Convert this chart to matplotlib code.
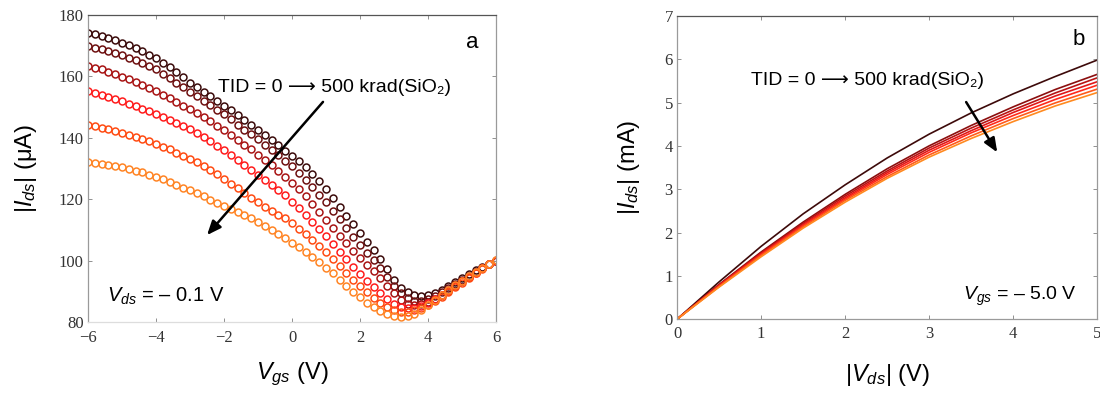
import numpy as np
import matplotlib
matplotlib.use("Agg")
from matplotlib import pyplot as plt

plt.rcParams["font.family"] = ["Liberation Sans", "DejaVu Sans"]
plt.rcParams["mathtext.fontset"] = "custom"
plt.rcParams["mathtext.rm"] = "Liberation Sans"
plt.rcParams["mathtext.it"] = "Liberation Sans:italic"

# panel a: |Ids| (uA) vs Vgs, one curve per dose, read every 0.2 V
vgs = np.round(np.arange(-60, 61, 2) / 10, 1)
ids_0 = [174.2, 173.7, 173.2, 172.5, 171.8, 171.0, 170.1, 169.2, 168.2, 167.1,
         166.0, 164.5, 163.0, 161.4, 159.7, 158.0, 156.5, 155.0, 153.5, 152.0,
         150.5, 148.9, 147.3, 145.7, 144.1, 142.5, 140.9, 139.2, 137.5, 135.8,
         134.2, 132.4, 130.5, 128.3, 125.8, 123.2, 120.5, 117.6, 114.6, 111.8,
         109.0, 106.2, 103.5, 100.6, 97.2, 93.6, 91.0, 89.6, 88.8, 88.5,
         88.7, 89.3, 90.5, 91.8, 93.1, 94.4, 95.6, 96.8, 98.0, 99.0, 100.0]
ids_1 = [169.8, 169.4, 168.9, 168.3, 167.6, 166.9, 166.1, 165.2, 164.3, 163.3,
         162.3, 160.9, 159.5, 158.0, 156.5, 155.0, 153.6, 152.1, 150.6, 149.1,
         147.6, 146.0, 144.3, 142.7, 141.1, 139.5, 137.8, 136.1, 134.3, 132.5,
         130.8, 128.6, 126.4, 124.0, 121.5, 119.0, 116.3, 113.4, 110.5, 107.8,
         105.2, 102.6, 100.1, 97.5, 94.6, 91.8, 89.4, 87.7, 86.9, 86.8,
         87.4, 88.3, 89.6, 90.9, 92.3, 93.7, 95.0, 96.3, 97.6, 98.8, 100.0]
ids_2 = [163.4, 162.9, 162.3, 161.6, 160.8, 159.9, 159.0, 158.1, 157.2, 156.2,
         155.3, 154.1, 152.9, 151.7, 150.5, 149.3, 148.0, 146.7, 145.4, 144.0,
         142.6, 141.0, 139.4, 137.8, 136.2, 134.5, 132.8, 131.0, 129.2, 127.3,
         125.4, 123.3, 121.0, 118.5, 115.9, 113.3, 110.7, 108.1, 105.6, 103.2,
         100.9, 98.7, 96.6, 94.3, 91.8, 89.3, 87.2, 85.9, 85.5, 85.7,
         86.4, 87.5, 88.9, 90.4, 91.9, 93.4, 94.8, 96.2, 97.5, 98.8, 100.0]
ids_3 = [155.2, 154.7, 154.1, 153.4, 152.6, 151.9, 151.1, 150.3, 149.5, 148.7,
         147.9, 146.9, 145.9, 144.9, 143.9, 142.8, 141.5, 140.2, 138.8, 137.4,
         136.0, 134.5, 132.9, 131.2, 129.4, 127.8, 126.2, 124.6, 123.0, 121.4,
         119.2, 117.0, 114.8, 112.5, 110.3, 107.9, 105.4, 102.9, 100.4, 98.0,
         95.7, 93.5, 91.4, 89.4, 87.6, 86.0, 85.0, 84.6, 84.7, 85.3,
         86.2, 87.4, 88.7, 90.2, 91.7, 93.2, 94.7, 96.1, 97.5, 98.8, 100.0]
ids_4 = [144.3, 143.8, 143.3, 142.8, 142.2, 141.6, 140.9, 140.2, 139.5, 138.8,
         138.0, 137.1, 136.2, 135.2, 134.2, 133.1, 132.0, 130.8, 129.5, 128.1,
         126.6, 125.1, 123.5, 122.0, 120.5, 119.0, 117.6, 116.2, 114.9, 113.8,
         112.1, 110.4, 108.6, 106.8, 104.9, 102.8, 100.5, 98.1, 95.8, 93.6,
         91.6, 89.7, 87.9, 86.3, 84.9, 83.9, 83.4, 83.4, 83.8, 84.6,
         85.6, 86.8, 88.2, 89.7, 91.3, 92.8, 94.4, 95.9, 97.4, 98.8, 100.1]
ids_5 = [132.0, 131.7, 131.4, 131.1, 130.8, 130.4, 129.9, 129.3, 128.7, 128.0,
         127.3, 126.5, 125.6, 124.7, 123.8, 122.9, 121.9, 120.9, 119.8, 118.8,
         117.8, 116.8, 115.8, 114.8, 113.8, 112.6, 111.3, 110.0, 108.6, 107.2,
         105.8, 104.3, 102.8, 101.2, 99.5, 97.7, 95.8, 93.8, 91.8, 89.8,
         88.0, 86.3, 84.8, 83.5, 82.5, 81.8, 81.6, 81.9, 82.7, 84.0,
         85.6, 87.2, 88.8, 90.4, 91.9, 93.4, 94.9, 96.3, 97.7, 99.0, 100.3]
curves_a = [ids_0, ids_1, ids_2, ids_3, ids_4, ids_5]
colors_a = ["#3b0b0b", "#6e1010", "#a81414", "#ff1c1c", "#ff4b12", "#ff8424"]

# panel b: |Ids| (mA) vs |Vds| at Vgs = -5 V, read every 0.5 V
vds = [0.0, 0.5, 1.0, 1.5, 2.0, 2.5, 3.0, 3.5, 4.0, 4.5, 5.0]
idb_0 = [0, 0.86, 1.68, 2.43, 3.10, 3.72, 4.27, 4.76, 5.20, 5.60, 5.98]
idb_1 = [0, 0.80, 1.55, 2.24, 2.88, 3.47, 4.00, 4.47, 4.90, 5.30, 5.65]
idb_2 = [0, 0.79, 1.53, 2.21, 2.84, 3.42, 3.95, 4.41, 4.83, 5.22, 5.57]
idb_3 = [0, 0.78, 1.51, 2.18, 2.80, 3.38, 3.90, 4.35, 4.77, 5.15, 5.48]
idb_4 = [0, 0.77, 1.49, 2.16, 2.77, 3.34, 3.85, 4.30, 4.70, 5.07, 5.40]
idb_5 = [0, 0.75, 1.47, 2.13, 2.74, 3.29, 3.79, 4.23, 4.63, 4.99, 5.31]
idb_6 = [0, 0.74, 1.44, 2.10, 2.70, 3.25, 3.74, 4.17, 4.56, 4.92, 5.23]
curves_b = [idb_0, idb_1, idb_2, idb_3, idb_4, idb_5, idb_6]
colors_b = ["#3d0a0a", "#8b0f0f", "#b81414", "#e01818", "#ff2a1a", "#ff5a1a", "#ff8a20"]

# plain unicode (no mathtext) so the family list can fall back for the arrow
tid_text = "TID = 0 \u27f6 500 krad(SiO\u2082)"


def style_axes(ax, xpad=3):
    for s in ["left", "right", "bottom"]:
        ax.spines[s].set_color("#9a9a9a")
        ax.spines[s].set_linewidth(0.9)
    ax.spines["top"].set_color("#555555")
    ax.spines["top"].set_linewidth(0.9)
    ax.tick_params(direction="in", length=3, width=0.7, color="#909090",
                   top=True, right=True, labelsize=12, labelcolor="#333333", pad=3)
    ax.tick_params(axis="x", pad=xpad)
    for lab in ax.get_xticklabels() + ax.get_yticklabels():
        lab.set_family("Liberation Serif")


fig = plt.figure(figsize=(11, 3.96), dpi=100)

# panel a
ax1 = fig.add_axes([0.080, 0.187, 0.371, 0.775])
for ys, c in zip(curves_a, colors_a):
    ax1.plot(vgs, ys, ls="none", marker="o", ms=5.0, mew=1.1, mfc="none", mec=c)
ax1.set_xlim(-6, 6)
ax1.set_ylim(80, 180)
ax1.set_xticks(np.arange(-6, 7, 2))
ax1.set_yticks(np.arange(80, 181, 20))
style_axes(ax1, xpad=6)
ax1.spines["bottom"].set_color("#dddddd")
ax1.set_xlabel("$V_{gs}$ (V)", fontsize=17, labelpad=10)
ax1.set_ylabel("$|I_{ds}|$ (\u03bcA)", fontsize=17, labelpad=14)
ax1.annotate("", xy=(-2.5, 108.3), xytext=(0.91, 151.7),
             arrowprops=dict(arrowstyle="-|>,head_length=0.6,head_width=0.25",
                             color="black", lw=1.8,
                             mutation_scale=14, shrinkA=0, shrinkB=0))
ax1.text(-2.18, 156.5, tid_text, fontsize=14, ha="left", va="center")
ax1.text(0.941, 0.912, "a", transform=ax1.transAxes, fontsize=16,
         ha="center", va="center")
ax1.text(0.047, 0.085, "$V_{ds}$ = \u2013 0.1 V", transform=ax1.transAxes,
         fontsize=14.5, ha="left", va="center")

# panel b
ax2 = fig.add_axes([0.6155, 0.194, 0.382, 0.766])
for ys, c in zip(curves_b, colors_b):
    ax2.plot(vds, ys, color=c, lw=1.2)
ax2.set_xlim(0, 5)
ax2.set_ylim(0, 7)
ax2.set_xticks(np.arange(0, 6, 1))
ax2.set_yticks(np.arange(0, 8, 1))
style_axes(ax2, xpad=5)
ax2.set_xlabel("$|V_{ds}|$ (V)", fontsize=17, labelpad=14)
ax2.set_ylabel("$|I_{ds}|$ (mA)", fontsize=17, labelpad=16)
ax2.annotate("", xy=(3.81, 3.85), xytext=(3.44, 5.01),
             arrowprops=dict(arrowstyle="-|>,head_length=0.6,head_width=0.25",
                             color="black", lw=1.8,
                             mutation_scale=14, shrinkA=0, shrinkB=0))
ax2.text(0.88, 5.5, tid_text, fontsize=14, ha="left", va="center")
ax2.text(0.955, 0.922, "b", transform=ax2.transAxes, fontsize=16,
         ha="center", va="center")
ax2.text(0.681, 0.076, "$V_{gs}$ = \u2013 5.0 V", transform=ax2.transAxes,
         fontsize=14, ha="left", va="center")

fig.savefig("out.png", dpi=100)
